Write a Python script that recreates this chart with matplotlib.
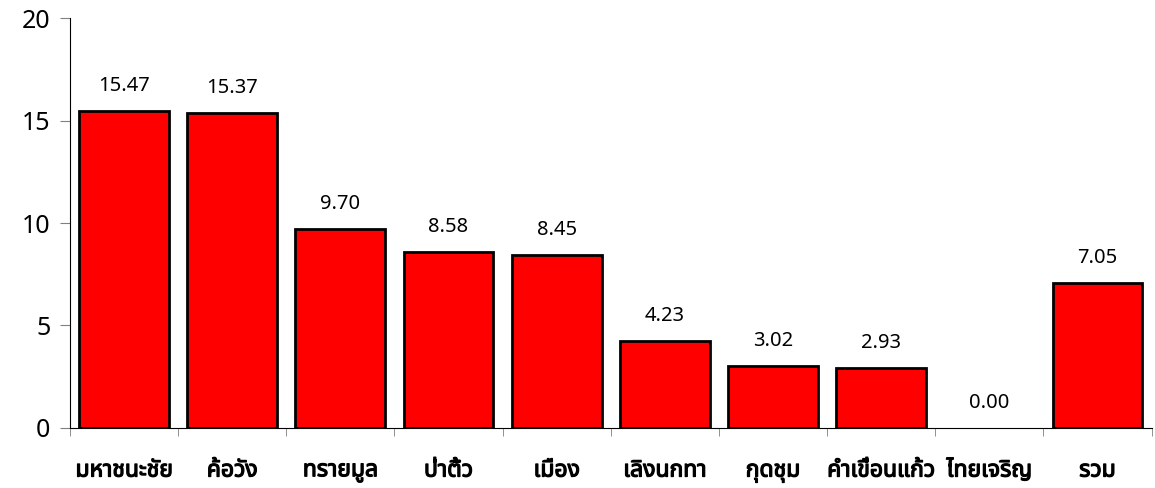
import numpy as np
import matplotlib.pyplot as plt
import matplotlib.patheffects as pe
from matplotlib import font_manager

names = ['มหาชนะชัย', 'ค้อวัง', 'ทรายมูล', 'ป่าติ้ว', 'เมือง',
         'เลิงนกทา', 'กุดชุม', 'คำเขื่อนแก้ว', 'ไทยเจริญ', 'รวม']
values = [15.47, 15.37, 9.70, 8.58, 8.45, 4.23, 3.02, 2.93, 0.00, 7.05]

have = {f.name for f in font_manager.fontManager.ttflist}
thai = [f for f in ['Noto Sans Thai', 'Tahoma', 'Loma', 'Garuda', 'Norasi', 'Noto Sans'] if f in have]
fams = thai + ['DejaVu Sans']
plt.rcParams['font.family'] = fams

fig = plt.figure(figsize=(11.55, 4.88), dpi=100)
ax = fig.add_axes([0.0606, 0.123, 0.9364, 0.840])

x = np.arange(len(names))
lw = [2 if v > 0 else 0 for v in values]
ax.bar(x, values, width=0.83, color='#ff0000', edgecolor='black', linewidth=lw)
for xi, v in zip(x, values):
    ax.annotate('%.2f' % v, (xi, v), xytext=(0, 11), textcoords='offset points',
                ha='center', va='bottom', fontsize=14.5)

ax.set_xlim(-0.5, len(names) - 0.5)
ax.set_ylim(0, 20)
ax.set_yticks([0, 5, 10, 15, 20])
ax.tick_params(axis='y', labelsize=18, length=7, color='#808080', pad=7)
ax.set_xticks(x)
ax.set_xticklabels(names, fontsize=16.5, fontweight='bold')
for t in ax.get_xticklabels():
    t.set_path_effects([pe.withStroke(linewidth=0.9, foreground='black')])
ax.set_xticks(np.arange(len(names) + 1) - 0.5, minor=True)
ax.tick_params(axis='x', which='major', length=0, pad=22)
ax.tick_params(axis='x', which='minor', length=6, color='#808080')
for s in ['top', 'right']:
    ax.spines[s].set_visible(False)
ax.spines['left'].set_color('black')
ax.spines['bottom'].set_color('black')

fig.savefig('out.png', dpi=100)
